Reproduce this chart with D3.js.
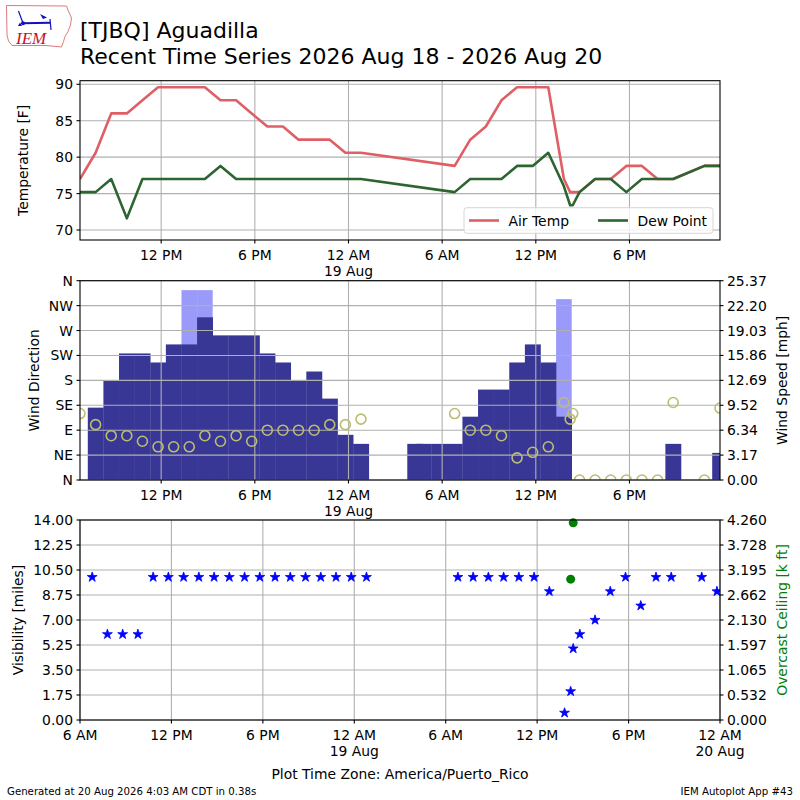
<!DOCTYPE html>
<html><head><meta charset="utf-8">
<script src="https://cdn.jsdelivr.net/npm/d3@7"></script>
<style>body{margin:0;background:#fff} svg{font-family:"DejaVu Sans",sans-serif}</style>
</head><body><svg id="c" width="800" height="800"></svg>
<script>
// ---------------- DATA ----------------
const obsTimes = [
"2026-08-18 06:48","2026-08-18 07:48","2026-08-18 08:48","2026-08-18 09:48","2026-08-18 10:48","2026-08-18 11:48","2026-08-18 12:48","2026-08-18 13:48","2026-08-18 14:48","2026-08-18 15:48","2026-08-18 16:48","2026-08-18 17:48","2026-08-18 18:48","2026-08-18 19:48","2026-08-18 20:48","2026-08-18 21:48","2026-08-18 22:48","2026-08-18 23:48","2026-08-19 00:48",
"2026-08-19 04:16","2026-08-19 04:48","2026-08-19 05:48",
"2026-08-19 06:48","2026-08-19 07:48","2026-08-19 08:48","2026-08-19 09:48","2026-08-19 10:48","2026-08-19 11:48","2026-08-19 12:48","2026-08-19 13:48","2026-08-19 14:12","2026-08-19 14:22","2026-08-19 14:48","2026-08-19 15:48","2026-08-19 16:48","2026-08-19 17:48","2026-08-19 18:48","2026-08-19 19:48","2026-08-19 20:48","2026-08-19 22:48","2026-08-19 23:48"];
const tempF = [77,80.6,86,86,87.8,89.6,89.6,89.6,89.6,87.8,87.8,86,84.2,84.2,82.4,82.4,82.4,80.6,80.6,
 null,null,null,
 78.8,82.4,84.2,87.8,89.6,89.6,89.6,77,75.2,75.2,75.2,77,77,78.8,78.8,77,77,78.8,78.8];
const dewF = [75.2,75.2,77,71.6,77,77,77,77,77,78.8,77,77,77,77,77,77,77,77,77,
 null,null,null,
 75.2,77,77,77,78.8,78.8,80.6,76.0,73.4,73.4,75.2,77,77,75.2,77,77,77,78.8,78.8];
const windDir = [120,100,80,80,70,60,60,60,80,70,80,70,90,90,90,90,100,100,110,
 null,null,null,
 120,90,90,80,40,50,60,140,110,120,0,0,0,0,0,0,140,0,130];
const windMph = [0,9.21,12.66,16.11,16.11,14.96,17.26,17.26,20.71,18.41,18.41,18.41,16.11,14.96,12.66,13.81,10.36,5.75,4.60,
 4.60,4.60,4.60,
 4.60,8.06,11.51,11.51,14.96,17.26,14.96,8.06,0,0,0,0,0,0,0,0,4.60,0,3.45];
const gustMph = [null,null,null,null,null,null,null,24.17,24.17,null,null,null,null,null,null,null,null,null,null,
 null,null,null,
 null,null,null,null,null,null,null,23.02,null,null,null,null,null,null,null,null,null,null,null];
const visMiles = [10,6,6,6,10,10,10,10,10,10,10,10,10,10,10,10,10,10,10,
 null,null,null,
 10,10,10,10,10,10,9,0.5,2,5,6,7,9,10,8,10,10,10,9];
const ceilKft = [null,null,null,null,null,null,null,null,null,null,null,null,null,null,null,null,null,null,null,
 null,null,null,
 null,null,null,null,null,null,null,null,3.0,4.2,null,null,null,null,null,null,null,null,null];

const tempTicks = [70,75,80,85,90];
const dirTicks = [0,45,90,135,180,225,270,315,360];
const dirLabels = ["N","NE","E","SE","S","SW","W","NW","N"];
const speedMax = 25.37;
const speedLabels = ["0.00","3.17","6.34","9.52","12.69","15.86","19.03","22.20","25.37"];
const visTicks = [0,1.75,3.5,5.25,7,8.75,10.5,12.25,14];
const visLabels = ["0.00","1.75","3.50","5.25","7.00","8.75","10.50","12.25","14.00"];
const ceilMax = 4.26;
const ceilLabels = ["0.000","0.532","1.065","1.597","2.130","2.662","3.195","3.728","4.260"];

// ---------------- SETUP ----------------
const svg = d3.select("#c");
const parse = d3.utcParse("%Y-%m-%d %H:%M");
const times = obsTimes.map(parse);
const FS = 13.9;
const L = 80, R = 720;
const P1 = {top:80.7, bottom:240}, P2 = {top:280.7, bottom:480}, P3 = {top:520, bottom:720};
const GRID = "#b0b0b0";

const xTop = d3.scaleUtc().domain(d3.extent(times)).range([L, R]);
const xBot = d3.scaleUtc().domain([parse("2026-08-18 06:00"), parse("2026-08-20 00:00")]).range([L, R]);

const yTemp = d3.scaleLinear().domain([68.63, 90.49]).range([P1.bottom, P1.top]);
const yDir = d3.scaleLinear().domain([0, 360]).range([P2.bottom, P2.top]);
const ySpd = d3.scaleLinear().domain([0, speedMax]).range([P2.bottom, P2.top]);
const yVis = d3.scaleLinear().domain([0, 14]).range([P3.bottom, P3.top]);
const yCeil = d3.scaleLinear().domain([0, ceilMax]).range([P3.bottom, P3.top]);

const defs = svg.append("defs");
function clip(id, p){
  defs.append("clipPath").attr("id", id).append("rect")
    .attr("x", L).attr("y", p.top).attr("width", R-L).attr("height", p.bottom-p.top);
}
clip("c1", P1); clip("c2", P2); clip("c3", P3);

function xGrid(x, p){
  const ticks = x.ticks(d3.utcHour.every(6));
  svg.append("g").selectAll("line").data(ticks).join("line")
    .attr("x1", d=>x(d)).attr("x2", d=>x(d)).attr("y1", p.top).attr("y2", p.bottom)
    .attr("stroke", GRID).attr("stroke-width", 1.1);
}
function yGrid(y, vals, p){
  svg.append("g").selectAll("line").data(vals).join("line")
    .attr("x1", L).attr("x2", R).attr("y1", d=>y(d)).attr("y2", d=>y(d))
    .attr("stroke", GRID).attr("stroke-width", 1.1);
}
const fmtTime = d3.utcFormat("%-I %p");
const fmtDay = d3.utcFormat("%-d %b");
function xAxis(x, p){
  const ticks = x.ticks(d3.utcHour.every(6));
  const g = svg.append("g");
  g.selectAll("line").data(ticks).join("line")
    .attr("x1", d=>x(d)).attr("x2", d=>x(d)).attr("y1", p.bottom).attr("y2", p.bottom+3.5)
    .attr("stroke", "#000").attr("stroke-width", 1.1);
  g.selectAll("text.t").data(ticks).join("text").attr("class","t")
    .attr("x", d=>x(d)).attr("y", p.bottom+19.5).attr("text-anchor","middle")
    .attr("font-size", FS).text(d=>fmtTime(d));
  g.selectAll("text.d").data(ticks.filter(d=>d.getUTCHours()===0)).join("text").attr("class","d")
    .attr("x", d=>x(d)).attr("y", p.bottom+36).attr("text-anchor","middle")
    .attr("font-size", FS).text(d=>fmtDay(d));
}
function yAxisLeft(y, vals, labels){
  const g = svg.append("g");
  g.selectAll("line").data(vals).join("line")
    .attr("x1", L-3.5).attr("x2", L).attr("y1", d=>y(d)).attr("y2", d=>y(d))
    .attr("stroke", "#000").attr("stroke-width", 1.1);
  g.selectAll("text").data(vals).join("text")
    .attr("x", L-7).attr("y", d=>y(d)).attr("dy","0.36em").attr("text-anchor","end")
    .attr("font-size", FS).text((d,i)=>labels[i]);
}
function yAxisRight(y, vals, labels){
  const g = svg.append("g");
  g.selectAll("line").data(vals).join("line")
    .attr("x1", R).attr("x2", R+3.5).attr("y1", d=>y(d)).attr("y2", d=>y(d))
    .attr("stroke", "#000").attr("stroke-width", 1.1);
  g.selectAll("text").data(vals).join("text")
    .attr("x", R+7).attr("y", d=>y(d)).attr("dy","0.36em").attr("text-anchor","start")
    .attr("font-size", FS).text((d,i)=>labels[i]);
}
function frame(p){
  svg.append("rect").attr("x", L).attr("y", p.top).attr("width", R-L).attr("height", p.bottom-p.top)
    .attr("fill","none").attr("stroke","#000").attr("stroke-width",1.1);
}
function ylabel(text, x, yc, color){
  svg.append("text").attr("transform", `translate(${x},${yc}) rotate(-90)`)
    .attr("text-anchor","middle").attr("dy","0.36em").attr("font-size", FS)
    .attr("fill", color||"#000").text(text);
}

// ---------------- HEADER ----------------
const logo = svg.append("g");
logo.append("path")
  .attr("d","M6.5,5.5 L66.5,6 L68,10 L71.5,18 L70.5,25 L68,31.5 L65,36.5 L63.5,41.5 L61.5,47 L46,45.5 L12,45.5 L8.5,41 L7,35 Z")
  .attr("fill","none").attr("stroke","#e07a7a").attr("stroke-width",1);
logo.append("line").attr("x1",23).attr("y1",23.3).attr("x2",50).attr("y2",22.7).attr("stroke","#1010c0").attr("stroke-width",2);
logo.append("line").attr("x1",18.5).attr("y1",11).attr("x2",23).attr("y2",23).attr("stroke","#1010c0").attr("stroke-width",1.2);
logo.append("circle").attr("cx",23).attr("cy",23.3).attr("r",2).attr("fill","#1010c0");
logo.append("path").attr("d","M40,14 L47,17.5 L43,19 Z").attr("fill","#1010c0");
logo.append("line").attr("x1",50).attr("y1",19).attr("x2",51).attr("y2",30).attr("stroke","#1010c0").attr("stroke-width",1.2);
logo.append("path").attr("d","M18,26 L22,26 L20,22.5 Z").attr("fill","#1010c0");
logo.append("text").attr("x",16).attr("y",43.5).attr("font-family","'Liberation Serif',serif")
  .attr("font-style","italic").attr("font-size",17).attr("fill","#c8102e").text("IEM");

svg.append("text").attr("x",80).attr("y",37.5).attr("font-size",22).text("[TJBQ] Aguadilla");
svg.append("text").attr("x",80).attr("y",63.5).attr("font-size",22).text("Recent Time Series 2026 Aug 18 - 2026 Aug 20");

// ---------------- PANEL 1: Temperature ----------------
xGrid(xTop, P1); yGrid(yTemp, tempTicks, P1);
const tLine = d3.line().x(d=>xTop(d.t)).y(d=>yTemp(d.v));
const tempData = times.map((t,i)=>({t, v:tempF[i]})).filter(d=>d.v!=null);
const dewData = times.map((t,i)=>({t, v:dewF[i]})).filter(d=>d.v!=null);
const g1 = svg.append("g").attr("clip-path","url(#c1)");
g1.append("path").datum(tempData).attr("d", tLine).attr("fill","none")
  .attr("stroke","#df5f66").attr("stroke-width",2.6).attr("stroke-linejoin","round");
g1.append("path").datum(dewData).attr("d", tLine).attr("fill","none")
  .attr("stroke","#2d6530").attr("stroke-width",2.6).attr("stroke-linejoin","round");
frame(P1);
yAxisLeft(yTemp, tempTicks, tempTicks.map(String));
xAxis(xTop, P1);
ylabel("Temperature [F]", 22.5, (P1.top+P1.bottom)/2);
// legend
const lg = svg.append("g");
lg.append("rect").attr("x",464).attr("y",207.7).attr("width",249).attr("height",25.6).attr("rx",3)
  .attr("fill","#fff").attr("fill-opacity",0.8).attr("stroke","#d6d6d6").attr("stroke-width",1);
lg.append("line").attr("x1",469).attr("x2",499).attr("y1",220.5).attr("y2",220.5).attr("stroke","#df5f66").attr("stroke-width",2.6);
lg.append("text").attr("x",508.5).attr("y",220.5).attr("dy","0.36em").attr("font-size",FS).text("Air Temp");
lg.append("line").attr("x1",598).attr("x2",628).attr("y1",220.5).attr("y2",220.5).attr("stroke","#2d6530").attr("stroke-width",2.6);
lg.append("text").attr("x",637.5).attr("y",220.5).attr("dy","0.36em").attr("font-size",FS).text("Dew Point");

// ---------------- PANEL 2: Wind ----------------
const g2 = svg.append("g").attr("clip-path","url(#c2)");
const half = 30*60*1000;
const gustBars = times.map((t,i)=>({t, v:gustMph[i]})).filter(d=>d.v!=null);
const spdBars = times.map((t,i)=>({t, v:windMph[i]})).filter(d=>d.v!=null && d.v>0);
g2.selectAll("rect.g").data(gustBars).join("rect").attr("class","g")
  .attr("x", d=>xTop(new Date(+d.t-half))).attr("width", d=>xTop(new Date(+d.t+half))-xTop(new Date(+d.t-half)))
  .attr("y", d=>ySpd(d.v)).attr("height", d=>ySpd(0)-ySpd(d.v)).attr("fill","#9a9afa");
g2.selectAll("rect.s").data(spdBars).join("rect").attr("class","s")
  .attr("x", d=>xTop(new Date(+d.t-half))).attr("width", d=>xTop(new Date(+d.t+half))-xTop(new Date(+d.t-half))+0.3)
  .attr("y", d=>ySpd(d.v)).attr("height", d=>ySpd(0)-ySpd(d.v)).attr("fill","#393796");
xGrid(xTop, P2); yGrid(yDir, dirTicks, P2);
const dirData = times.map((t,i)=>({t, v:windDir[i]})).filter(d=>d.v!=null);
const g2b = svg.append("g").attr("clip-path","url(#c2)");
g2b.selectAll("circle").data(dirData).join("circle")
  .attr("cx", d=>xTop(d.t)).attr("cy", d=>yDir(d.v)).attr("r",5)
  .attr("fill","none").attr("stroke","#bdbd72").attr("stroke-width",1.6);
frame(P2);
yAxisLeft(yDir, dirTicks, dirLabels);
yAxisRight(ySpd, speedLabels.map((s,i)=>i*speedMax/8), speedLabels);
xAxis(xTop, P2);
ylabel("Wind Direction", 34, (P2.top+P2.bottom)/2);
ylabel("Wind Speed [mph]", 781.5, (P2.top+P2.bottom)/2);

// ---------------- PANEL 3: Visibility / Ceiling ----------------
xGrid(xBot, P3); yGrid(yVis, visTicks, P3);
const g3 = svg.append("g").attr("clip-path","url(#c3)");
const visData = times.map((t,i)=>({t, v:visMiles[i]})).filter(d=>d.v!=null);
const star = d3.symbol().type(d3.symbolStar).size(30);
g3.selectAll("path.v").data(visData).join("path").attr("class","v")
  .attr("transform", d=>`translate(${xBot(d.t)},${yVis(d.v)})`).attr("d", star)
  .attr("fill","#0000ff").attr("stroke","#0000ff").attr("stroke-width",0.8).attr("stroke-linejoin","round");
const ceilData = times.map((t,i)=>({t, v:ceilKft[i]})).filter(d=>d.v!=null);
svg.append("g").selectAll("circle").data(ceilData).join("circle")
  .attr("cx", d=>xBot(d.t)).attr("cy", d=>yCeil(d.v)).attr("r",4.5).attr("fill","#008000");
frame(P3);
yAxisLeft(yVis, visTicks, visLabels);
yAxisRight(yCeil, ceilLabels.map((s,i)=>i*ceilMax/8), ceilLabels);
xAxis(xBot, P3);
ylabel("Visibility [miles]", 17.5, (P3.top+P3.bottom)/2);
ylabel("Overcast Ceiling [k ft]", 782, (P3.top+P3.bottom)/2, "#008000");

// ---------------- FOOTER ----------------
svg.append("text").attr("x",400).attr("y",779).attr("text-anchor","middle").attr("font-size",FS)
  .text("Plot Time Zone: America/Puerto_Rico");
svg.append("text").attr("x",7).attr("y",795).attr("font-size",10.2).text("Generated at 20 Aug 2026 4:03 AM CDT in 0.38s");
svg.append("text").attr("x",793).attr("y",795).attr("text-anchor","end").attr("font-size",10.2).text("IEM Autoplot App #43");
</script></body></html>
